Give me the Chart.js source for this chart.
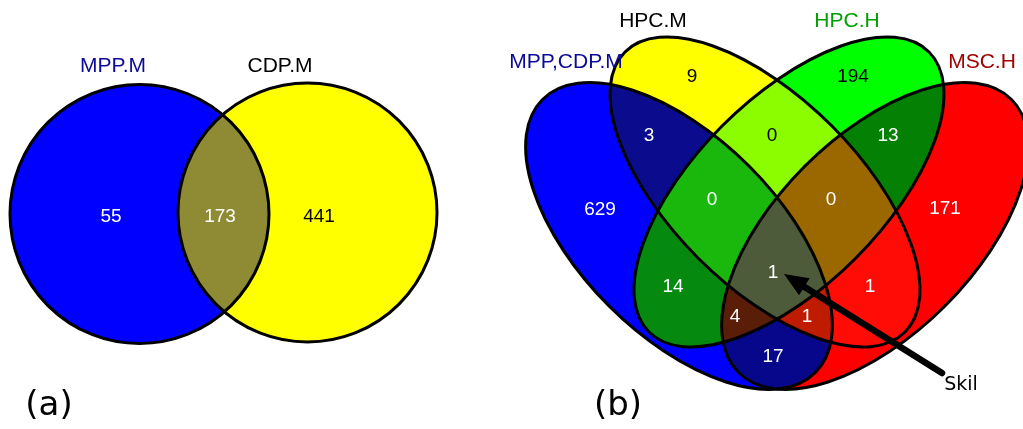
<!DOCTYPE html>
<html><head><meta charset="utf-8">
<script src="https://cdn.jsdelivr.net/npm/chart.js@4.4.0/dist/chart.umd.min.js"></script>
<style>html,body{margin:0;padding:0;background:#fff}#wrap{width:1023px;height:429px}</style>
</head><body><div id="wrap"><canvas id="c" width="1023" height="429"></canvas></div>
<script>
// ---------------- data ----------------
const setNamesA = ['MPP.M', 'CDP.M'];
const regionKeysA = ['A', 'AB', 'B'];
const countsA = [55, 173, 441];

const setNamesB = ['MPP,CDP.M', 'HPC.M', 'HPC.H', 'MSC.H'];
const regionKeysB = ['A','B','C','D','AB','BC','CD','AC','BD','AD','ABC','BCD','ACD','ABD','ABCD'];
const countsB = [629, 9, 194, 171, 3, 0, 13, 14, 1, 17, 0, 0, 4, 1, 1];

const panelLabels = ['(a)', '(b)'];
const annotationText = 'Skil';

// ---------------- layout / style (diagram units) ----------------
const shapesA = [
  {cx:139.5, cy:214,   a:129.5, b:129.5, rot:0},
  {cx:307.5, cy:212.5, a:129.5, b:129.5, rot:0}
];
const shapesB = [
  {cx:679, cy:236, a:193, b:99, rot:45},
  {cx:765, cy:192, a:198, b:94, rot:45},
  {cx:789, cy:192, a:198, b:94, rot:-45},
  {cx:875, cy:236, a:193, b:99, rot:-45}
];
const regionColorsA = {A:'#0000ff', B:'#ffff00', AB:'#8e8b34'};
const regionColorsB = {
  A:'#0000ff', B:'#ffff00', C:'#00ff00', D:'#ff0000',
  AB:'#0b0b8e', BC:'#8cfc00', CD:'#048004', AC:'#058a0f', BD:'#fe0c05', AD:'#07078c',
  ABC:'#1ab80c', BCD:'#9b6800', ACD:'#5a1d08', ABD:'#bf1b00', ABCD:'#4d5b3b'
};
const countPosA = [[111,216.5],[220,216.5],[319,216.5]];
const countColA = ['#fff','#fff','#000'];
const countPosB = [[600,210],[692,77],[853,77],[945,209],[649,136],[772,136],[888,136],
  [673,287],[870,287],[773,357],[712,200],[831,200],[735,317],[807,317],[773,273]];
const countColB = ['#fff','#000','#000','#fff','#fff','#000','#fff','#fff','#fff','#fff','#fff','#fff','#fff','#fff','#fff'];
const setLabelPosA = [[113,66],[280,66]];
const setLabelColA = ['#0a0a96','#000'];
const setLabelPosB = [[566,62],[653,21],[847,21],[982,62]];
const setLabelColB = ['#0a0a96','#000','#00a000','#a00000'];
const panelPos = [[49,406],[618,406]];
const arrowTail = [942,373], arrowTip = [784,274], annotPos = [961,385];

const pts = arr => arr.map(p => ({x:p[0], y:p[1]}));

const vennPlugin = {
  id:'venn',
  beforeDatasetsDraw(chart){
    const {ctx, scales:{x, y}} = chart;
    const W = chart.width, H = chart.height;
    const k = Math.abs(x.getPixelForValue(1) - x.getPixelForValue(0));
    const toPath = s => { const p = new Path2D();
      p.ellipse(x.getPixelForValue(s.cx), y.getPixelForValue(s.cy), s.a*k, s.b*k, s.rot*Math.PI/180, 0, 2*Math.PI); return p; };
    const letters = 'ABCD';
    const panel = (shapes, keys, colors) => {
      const paths = shapes.map(toPath);
      // base fills
      paths.forEach((p,i)=>{ ctx.fillStyle = colors[letters[i]]; ctx.fill(p); });
      keys.forEach(key => {
        ctx.save();
        paths.forEach((p,i) => {
          if (key.includes(letters[i])) ctx.clip(p);
          else { const q = new Path2D(); q.rect(0,0,W,H); q.addPath(p); ctx.clip(q,'evenodd'); }
        });
        ctx.fillStyle = colors[key];
        ctx.fillRect(0,0,W,H);
        ctx.restore();
      });
      ctx.save();
      ctx.lineWidth = 3; ctx.strokeStyle = '#000';
      paths.forEach(p => ctx.stroke(p));
      ctx.restore();
    };
    panel(shapesA, regionKeysA, regionColorsA);
    panel(shapesB, regionKeysB, regionColorsB);
  },
  afterDatasetsDraw(chart){
    const {ctx, scales:{x, y}} = chart;
    ctx.save();
    ctx.textAlign = 'center'; ctx.textBaseline = 'middle';
    const drawTexts = (dsIndex, texts, colors, font) => {
      const meta = chart.getDatasetMeta(dsIndex);
      meta.data.forEach((el, i) => {
        ctx.font = font; ctx.fillStyle = colors[i];
        ctx.fillText(String(texts[i]), el.x, el.y);
      });
    };
    drawTexts(0, countsA, countColA, '19px "Liberation Sans", Arial, sans-serif');
    drawTexts(1, countsB, countColB, '19px "Liberation Sans", Arial, sans-serif');
    drawTexts(2, setNamesA, setLabelColA, '21px "Liberation Sans", Arial, sans-serif');
    drawTexts(3, setNamesB, setLabelColB, '21px "Liberation Sans", Arial, sans-serif');
    drawTexts(4, panelLabels, ['#000','#000'], '34px "DejaVu Sans", sans-serif');
    // annotation arrow
    const tx = x.getPixelForValue(arrowTail[0]), ty = y.getPixelForValue(arrowTail[1]);
    const hx = x.getPixelForValue(arrowTip[0]), hy = y.getPixelForValue(arrowTip[1]);
    const dx = hx - tx, dy = hy - ty, L = Math.hypot(dx, dy), ux = dx/L, uy = dy/L;
    const headLen = 24, headW = 10;
    const bx = hx - ux*headLen, by = hy - uy*headLen;
    ctx.strokeStyle = '#000'; ctx.lineWidth = 6.5; ctx.lineCap = 'round';
    ctx.beginPath(); ctx.moveTo(tx, ty); ctx.lineTo(bx + ux*3, by + uy*3); ctx.stroke();
    ctx.fillStyle = '#000';
    ctx.beginPath(); ctx.moveTo(hx, hy);
    ctx.lineTo(bx - uy*headW, by + ux*headW);
    ctx.lineTo(bx + uy*headW, by - ux*headW);
    ctx.closePath(); ctx.fill();
    ctx.font = '19px "DejaVu Sans", sans-serif';
    ctx.fillText(annotationText, x.getPixelForValue(annotPos[0]), y.getPixelForValue(annotPos[1]));
    ctx.restore();
  }
};

new Chart(document.getElementById('c'), {
  type: 'scatter',
  data: { datasets: [
    {label:'countsA', data: pts(countPosA), pointRadius:0},
    {label:'countsB', data: pts(countPosB), pointRadius:0},
    {label:'setsA', data: pts(setLabelPosA), pointRadius:0},
    {label:'setsB', data: pts(setLabelPosB), pointRadius:0},
    {label:'panels', data: pts(panelPos), pointRadius:0}
  ]},
  options: {
    responsive:false, animation:false, devicePixelRatio:1,
    layout:{padding:0},
    plugins:{legend:{display:false}, tooltip:{enabled:false}},
    scales:{
      x:{type:'linear', min:0, max:1023, display:false},
      y:{type:'linear', min:0, max:429, reverse:true, display:false}
    }
  },
  plugins:[vennPlugin]
});
</script></body></html>
